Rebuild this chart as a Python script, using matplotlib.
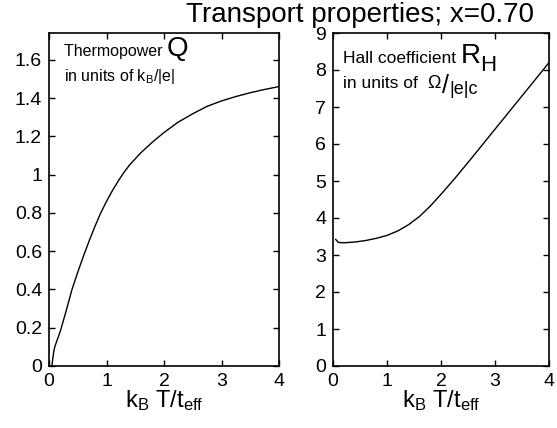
import matplotlib
matplotlib.use("Agg")
import matplotlib.pyplot as plt
from matplotlib.ticker import FormatStrFormatter

plt.rcParams['font.family'] = ['Liberation Sans', 'DejaVu Sans']
plt.rcParams['mathtext.fontset'] = 'custom'
plt.rcParams['mathtext.rm'] = 'Liberation Sans'
plt.rcParams['mathtext.it'] = 'Liberation Sans'

# ---- data ----
t_q = [0.05, 0.08, 0.1, 0.2, 0.3, 0.4, 0.5, 0.6, 0.7, 0.8, 0.9, 1.0, 1.1, 1.2,
       1.3, 1.4, 1.6, 1.8, 2.0, 2.25, 2.5, 2.75, 3.0, 3.25, 3.5, 3.75, 4.0]
thermo_q = [0.0, 0.07, 0.1, 0.185, 0.29, 0.40, 0.49, 0.575, 0.655, 0.73, 0.80,
            0.86, 0.915, 0.965, 1.01, 1.05, 1.115, 1.17, 1.22, 1.275, 1.318,
            1.357, 1.385, 1.408, 1.428, 1.445, 1.46]

t_r = [0.05, 0.1, 0.2, 0.4, 0.6, 0.8, 1.0, 1.2, 1.4, 1.6, 1.8, 2.0, 2.25, 2.5,
       2.75, 3.0, 3.25, 3.5, 3.75, 4.0]
hall_r = [3.42, 3.34, 3.33, 3.35, 3.39, 3.45, 3.53, 3.65, 3.82, 4.04, 4.32,
          4.64, 5.06, 5.5, 5.95, 6.4, 6.85, 7.3, 7.75, 8.2]

xticks = [0, 1, 2, 3, 4]
yticks_q = [0, 0.2, 0.4, 0.6, 0.8, 1.0, 1.2, 1.4, 1.6]
yticks_r = [0, 1, 2, 3, 4, 5, 6, 7, 8, 9]

W, H = 557, 428
fig = plt.figure(figsize=(W / 100, H / 100), dpi=100)

ax1 = fig.add_axes([49 / W, 1 - 366 / H, 230 / W, 333 / H])
ax2 = fig.add_axes([333 / W, 1 - 366 / H, 216 / W, 333 / H])

xlabel = r'$\mathregular{k_B\ T/t_{eff}}$'

for ax in (ax1, ax2):
    ax.set_xlim(0, 4)
    ax.set_xticks(xticks)
    ax.tick_params(direction='in', top=True, right=True, length=4, width=1,
                   labelsize=14, pad=5)
    for s in ax.spines.values():
        s.set_linewidth(1.2)
    ax.set_xlabel(xlabel, fontsize=17, labelpad=-1)
    ax.xaxis.set_major_formatter(FormatStrFormatter('%g'))
    ax.yaxis.set_major_formatter(FormatStrFormatter('%g'))

ax1.plot(t_q, thermo_q, color='black', lw=1)
ax1.set_ylim(0, 1.74)
ax1.set_yticks(yticks_q)

ax2.plot(t_r, hall_r, color='black', lw=1)
ax2.set_ylim(0, 9)
ax2.set_yticks(yticks_r)

# text labels inside panels
t1 = ax1.text(0.065, 0.93, 'Thermopower ', transform=ax1.transAxes,
              fontsize=11.5, va='baseline')
ax1.annotate('Q', xy=(1, 0), xycoords=t1, fontsize=20, va='bottom',
             xytext=(0, -2), textcoords='offset points')
ax1.text(0.065, 0.855, r'in units of k$\mathregular{_B}$/|e|',
         transform=ax1.transAxes, fontsize=11.5, va='baseline')

t2 = ax2.text(0.045, 0.91, 'Hall coefficient ', transform=ax2.transAxes,
              fontsize=12.5, va='baseline')
tr = ax2.annotate('R', xy=(1, 0), xycoords=t2, fontsize=20, va='bottom',
                  xytext=(0, -2), textcoords='offset points')
ax2.annotate('H', xy=(1, 0), xycoords=tr, fontsize=16, va='bottom',
             xytext=(0, -5), textcoords='offset points')
t3 = ax2.text(0.045, 0.835, 'in units of  ', transform=ax2.transAxes,
              fontsize=12.5, va='baseline')
t4 = ax2.annotate(r'$\mathregular{\Omega}$', xy=(1, 0), xycoords=t3,
                  fontsize=13, va='bottom', xytext=(0, -1),
                  textcoords='offset points')
t5 = ax2.annotate('/', xy=(1, 0), xycoords=t4, fontsize=18, va='bottom',
                  xytext=(0, -4), textcoords='offset points')
ax2.annotate('|e|c', xy=(1, 0), xycoords=t5, fontsize=13, va='bottom',
             xytext=(0, 0), textcoords='offset points')

fig.text(360 / W, 1 - 15 / H, 'Transport properties; x=0.70', fontsize=20,
         ha='center', va='center')

fig.savefig('out.png', dpi=100)
